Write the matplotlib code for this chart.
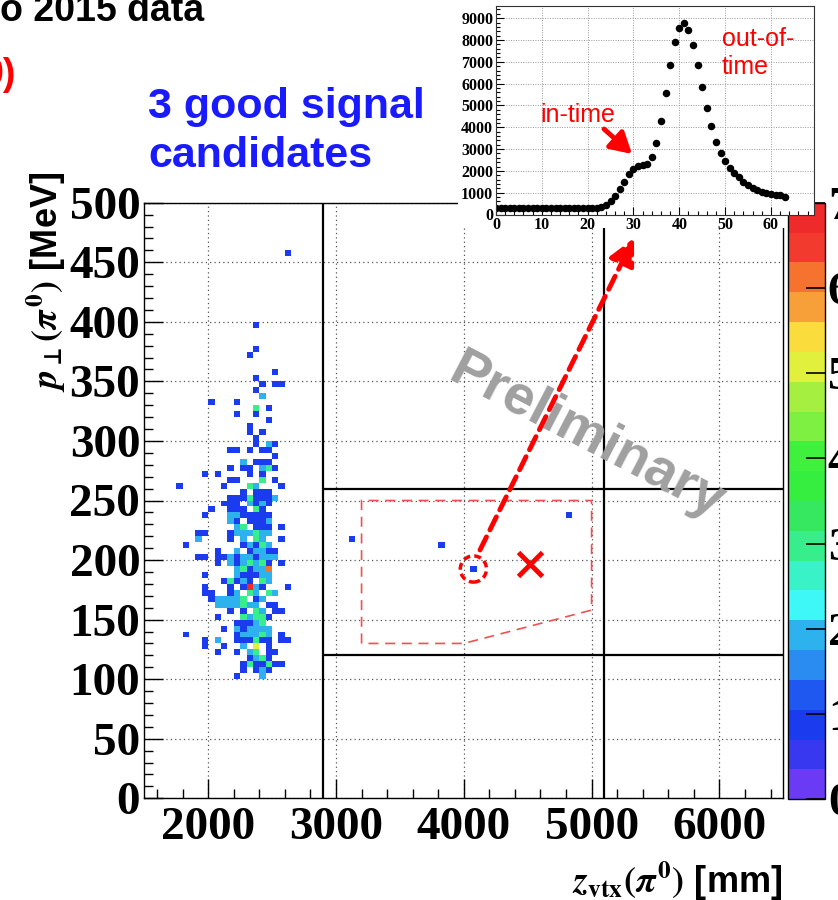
import numpy as np
import matplotlib
matplotlib.use("Agg")
import matplotlib.pyplot as plt
from matplotlib.colors import ListedColormap, BoundaryNorm
from matplotlib.patches import Ellipse, Polygon, Rectangle, FancyArrowPatch
from matplotlib.ticker import MultipleLocator

plt.rcParams['font.family'] = ['Liberation Serif', 'DejaVu Serif']
plt.rcParams['font.weight'] = 'bold'
plt.rcParams['mathtext.fontset'] = 'stix'

# 2D histogram, 50 mm x 5 MeV bins
z_bin = 50
pt_bin = 5
cluster_z0 = 1750  # left edge of the first column of the row strings
cluster_pt = [455, 395, 375, 370, 355, 350, 345, 340, 335, 330, 325, 320,
              315, 310, 305, 300, 295, 290, 285, 280, 275, 270, 265, 260,
              255, 250, 245, 240, 235, 230, 225, 220, 215, 210, 205, 200,
              195, 190, 185, 180, 175, 170, 165, 160, 155, 150, 145, 140,
              135, 130, 125, 120, 115, 110, 105, 100]
cluster_rows = [
    ".................1.",
    "............1......",
    "............1......",
    "...........1.......",
    "...............1...",
    "............1......",
    ".............1.11..",
    "............1......",
    ".............2.....",
    ".....1...1.........",
    "............3.1....",
    ".........1..1......",
    "..............1....",
    "...........1.......",
    "...........1.1.....",
    "............1......",
    "............1.21...",
    "........11.1.11....",
    "...............1...",
    "..........2.111....",
    "........1.11.231...",
    "....1.1....1.1.....",
    "........11...3.1...",
    "1......1...32...1..",
    "..........1.111....",
    "........11131112...",
    ".......111.2121....",
    ".....1..111.31.....",
    "....1...2211111....",
    "........21.1112....",
    ".........23.111.1..",
    "...11...1222322....",
    "...2....1.2.32..1..",
    ".1........12132....",
    "......1..2.12211...",
    "...11.1121221222...",
    "......1.2123231.1..",
    ".........231226....",
    "....1....211122....",
    ".......13121.32....",
    "....1...1.1721...1.",
    "....11..12.32.32...",
    ".....122223.12.....",
    "......2222322.11...",
    "........1.1.32.11..",
    "......1...32331....",
    ".........11123.....",
    ".......1.212222....",
    ".1.......122232.1..",
    "....1.2..111311.11.",
    "....1..1..2.5.1....",
    "......1..1.23.11...",
    "...........1231....",
    "..........1311311..",
    "..........1.121....",
    ".........1...2.....",
]

# single entries near the signal box
box_z = [3125, 3825, 4075, 4825]
box_pt = [217.5, 212.5, 192.5, 237.5]

# signal region and cut lines
region_z = [3200, 3200, 5000, 5000, 4000]
region_pt = [130, 250, 250, 158, 130]
cut_z = [2900, 5100]
cut_pt = [120, 260]

# inset distribution
inset_x = list(range(64))
inset_y = [300] * 23 + [330, 440, 620, 850, 1180, 1500, 1840, 2080, 2220,
                        2260, 2320, 2630, 3270, 4310, 5590, 6850, 7890, 8540,
                        8770, 8440, 7780, 6850, 5840, 4890, 4050, 3340, 2820,
                        2440, 2150, 1920, 1710, 1510, 1350, 1220, 1110, 1030,
                        970, 940, 905, 880, 815]

palette = ['#6a3af5', '#3838f0', '#1a3cee', '#1e58f0', '#2a8cf0', '#2eb2ee',
           '#3ef8f8', '#3af2c8', '#38ee8c', '#35e860', '#35ee40', '#3ff03d',
           '#7ef041', '#a5ef40', '#e0f03c', '#fadc3c', '#f7a03a', '#f5722f',
           '#f23a2e', '#ee2a2a']

W, H = 838, 900


def fx(px):
    return px / W


def fy(py):
    return 1 - py / H


fig = plt.figure(figsize=(W / 100, H / 100), dpi=100)

ax = fig.add_axes([fx(144.3), fy(798.3), fx(783.3) - fx(144.3), fy(202.7) - fy(798.3)])

z_edges = np.arange(1500, 6500 + z_bin, z_bin)
pt_edges = np.arange(0, 500 + pt_bin, pt_bin)
counts = np.zeros((len(pt_edges) - 1, len(z_edges) - 1))
for pt0, row in zip(cluster_pt, cluster_rows):
    for c, ch in enumerate(row):
        if ch != '.':
            counts[pt0 // pt_bin, (cluster_z0 + c * z_bin - 1500) // z_bin] += int(ch)
for z, pt in zip(box_z, box_pt):
    counts[int(pt // pt_bin), int((z - 1500) // z_bin)] += 1

cmap = ListedColormap(palette)
cmap.set_over(palette[-1])
norm = BoundaryNorm(np.linspace(0, 7, 21), 20)
mesh = ax.pcolormesh(z_edges, pt_edges, np.ma.masked_equal(counts, 0),
                     cmap=cmap, norm=norm, zorder=2)

ax.set_xlim(1500, 6500)
ax.set_ylim(0, 500)
ax.xaxis.set_major_locator(MultipleLocator(1000))
ax.xaxis.set_minor_locator(MultipleLocator(200))
ax.yaxis.set_major_locator(MultipleLocator(50))
ax.yaxis.set_minor_locator(MultipleLocator(10))
ax.tick_params(which='both', direction='in', top=False, right=False,
               labelsize=34, width=1)
ax.tick_params(which='major', length=14)
ax.tick_params(which='minor', length=6.5)
ax.tick_params(axis='x', pad=6)
ax.tick_params(axis='y', pad=3)
ax.grid(True, which='major', ls=(0, (1, 2.5)), lw=0.9, color='#555555', zorder=1)
for s in ax.spines.values():
    s.set_linewidth(1)

for z in cut_z:
    ax.axvline(z, color='black', lw=1.6, zorder=3)
for pt in cut_pt:
    ax.hlines(pt, cut_z[0], 6500, color='black', lw=1.6, zorder=3)

ax.add_patch(Polygon(list(zip(region_z, region_pt)), closed=True, fill=False,
                     ec='#f05050', lw=1.2, ls=(0, (6, 4)), zorder=3))
ax.add_patch(Ellipse((box_z[2], box_pt[2]), 205, 22, fill=False, ec='red',
                     lw=2.5, ls=(0, (2, 1.2)), zorder=5))
ax.plot([4520], [196.5], marker='x', ms=17, mew=3.5, color='red', zorder=5)

fig.text(fx(586), fy(437), 'Preliminary', rotation=-27.5, rotation_mode='anchor',
         ha='center', va='center', fontsize=40, color='#a0a0a0',
         family=['Liberation Sans', 'DejaVu Sans'], weight='bold', zorder=3)

cax = fig.add_axes([fx(787.7), fy(799.3), fx(825) - fx(787.7), fy(202.7) - fy(799.3)])
cb = fig.colorbar(mesh, cax=cax, ticks=range(8))
cb.outline.set_linewidth(1)
cax.minorticks_off()
cax.tick_params(direction='in', length=14, width=1.2, labelsize=34, pad=2)

# white box behind the inset
fig.add_artist(Rectangle((fx(458), fy(228)), fx(786) - fx(458), 228 / H,
                         transform=fig.transFigure, fc='white', ec='none', zorder=4))
fig.add_artist(Rectangle((fx(786), fy(215)), fx(814) - fx(786), 215 / H,
                         transform=fig.transFigure, fc='white', ec='none', zorder=4))

ax_in = fig.add_axes([fx(496), fy(214.5), fx(814) - fx(496), fy(6) - fy(214.5)], zorder=5)
ax_in.plot(inset_x, inset_y, 'o', color='black', ms=4.4)
ax_in.set_xlim(0, 69.4)
ax_in.set_ylim(0, 9560)
ax_in.xaxis.set_major_locator(MultipleLocator(10))
ax_in.xaxis.set_minor_locator(MultipleLocator(2))
ax_in.yaxis.set_major_locator(MultipleLocator(1000))
ax_in.yaxis.set_minor_locator(MultipleLocator(200))
ax_in.tick_params(which='both', direction='in', labelsize=11.5, width=0.8, pad=2)
ax_in.tick_params(which='major', length=6)
ax_in.tick_params(which='minor', length=3)
ax_in.grid(True, which='major', ls=(0, (1, 1.5)), lw=0.7, color='#999999')
for s in ax_in.spines.values():
    s.set_linewidth(0.8)
    s.set_color('#333333')

sans = ['Liberation Sans', 'DejaVu Sans']
fig.text(fx(540), fy(122), 'in-time', family=sans, weight='normal', size=18,
         color='red', va='baseline', zorder=7)
fig.text(fx(722), fy(46.5), 'out-of-', family=sans, weight='normal', size=18,
         color='red', va='baseline', zorder=7)
fig.text(fx(722), fy(73.5), 'time', family=sans, weight='normal', size=18,
         color='red', va='baseline', zorder=7)
fig.add_artist(FancyArrowPatch((fx(604), fy(129)), (fx(632), fy(154)),
                               transform=fig.transFigure, color='red', lw=3.5,
                               arrowstyle='-|>,head_length=0.7,head_width=0.4',
                               mutation_scale=18, shrinkA=0, shrinkB=0, zorder=7))

# dashed arrow from the circled event to the inset
fig.add_artist(FancyArrowPatch((fx(480), fy(550)), (fx(634), fy(238)),
                               transform=fig.transFigure, color='red', lw=3.5,
                               ls=(0, (3, 1.6)),
                               arrowstyle='-|>,head_length=0.8,head_width=0.4',
                               mutation_scale=20, shrinkA=0, shrinkB=0, zorder=6))

fig.text(fx(0), fy(21), 'o 2015 data', family=sans, weight='bold', size=27,
         color='black', va='baseline')
fig.text(fx(-17), fy(85), '0)', family=sans, weight='bold', size=27,
         color='red', va='baseline')
fig.text(fx(148), fy(118), '3 good signal', family=sans, weight='bold', size=31,
         color='#1a1aff', va='baseline')
fig.text(fx(148), fy(167), 'candidates', family=sans, weight='bold', size=31,
         color='#1a1aff', va='baseline')

fig.text(fx(46), fy(172), r'$p_{\bot}(\pi^{0})$ [MeV]', family=sans,
         weight='bold', size=26, rotation=90, ha='center', va='top')
fig.text(fx(782), fy(893), r'$z_{\mathsf{vtx}}(\pi^{0})$ [mm]', family=sans,
         weight='bold', size=26, ha='right', va='baseline')

fig.savefig('out.png', dpi=100)
